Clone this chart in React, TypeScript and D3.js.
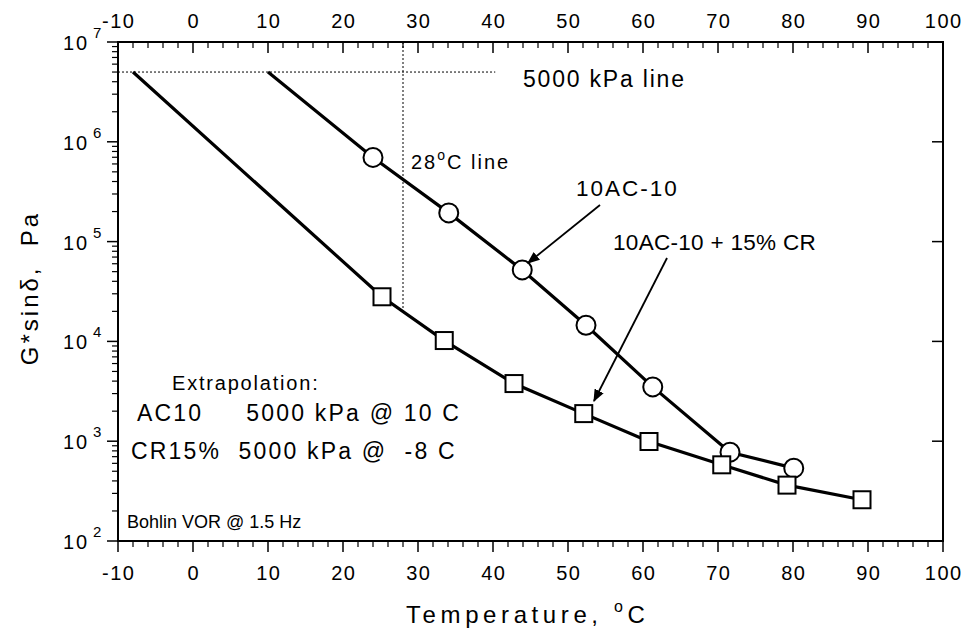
import React from "react";
import * as d3 from "d3";

const acTemps = [10, 24, 34.1, 43.9, 52.4, 61.3, 71.6, 80.1];
const acValues = [5e6, 6.97e5, 1.94e5, 5.2e4, 1.45e4, 3.5e3, 776, 537];
const acMarked = [false, true, true, true, true, true, true, true];

const crTemps = [-8, 25.2, 33.5, 42.8, 52.1, 60.8, 70.5, 79.2, 89.2];
const crValues = [5e6, 2.8e4, 1.02e4, 3.78e3, 1.89e3, 993, 580, 363, 259];
const crMarked = [false, true, true, true, true, true, true, true, true];

const xTicks = [-10, 0, 10, 20, 30, 40, 50, 60, 70, 80, 90, 100];
const yExponents = [2, 3, 4, 5, 6, 7];

const FONT = "Liberation Sans, Arial, sans-serif";

export default function App() {
  const x = d3.scaleLinear().domain([-10, 100]).range([118, 943]);
  const y = d3.scaleLog().domain([100, 1e7]).range([541, 42]);
  const line = d3
    .line<[number, number]>()
    .x((d) => x(d[0]))
    .y((d) => y(d[1]));

  const acPts: [number, number][] = acTemps.map((t, i) => [t, acValues[i]]);
  const crPts: [number, number][] = crTemps.map((t, i) => [t, crValues[i]]);

  const minorX = d3.range(-10, 100.01, 2).filter((v) => Math.abs(v % 10) > 0.01);
  const minorY: number[] = [];
  for (let e = 2; e < 7; e++) for (let m = 2; m <= 9; m++) minorY.push(m * Math.pow(10, e));

  const [x0, x1] = x.range();
  const yTop = y(1e7);
  const yBot = y(100);

  const crAt28 = Math.pow(10, 4.447 - (2.8 / 8.3) * 0.437);
  const tickLS = 1.5;

  return (
    <svg
      width={969}
      height={637}
      style={{ position: "absolute", left: 0, top: 0, background: "#fff" }}
      fontFamily={FONT}
    >
      <defs>
        <marker id="ah" viewBox="0 0 10 10" refX="9" refY="5" markerWidth="7" markerHeight="7" orient="auto-start-reverse">
          <path d="M0,1 L10,5 L0,9 Z" fill="#000" />
        </marker>
      </defs>
      <rect x={0} y={0} width={969} height={637} fill="#fff" />

      <rect x={x0} y={yTop} width={x1 - x0} height={yBot - yTop} fill="none" stroke="#000" strokeWidth={2} />

      {xTicks.map((t) => (
        <g key={"xt" + t}>
          <line x1={x(t)} x2={x(t)} y1={yBot} y2={yBot + 11} stroke="#000" strokeWidth={1.5} />
          <line x1={x(t)} x2={x(t)} y1={yTop} y2={yTop + 11} stroke="#000" strokeWidth={1.5} />
          <text x={x(t) + tickLS / 2} y={yBot + 39} textAnchor="middle" fontSize={20} letterSpacing={tickLS}>
            {t}
          </text>
          <text x={x(t) + tickLS / 2} y={yTop - 14} textAnchor="middle" fontSize={20} letterSpacing={tickLS}>
            {t}
          </text>
        </g>
      ))}
      {minorX.map((t) => (
        <g key={"xm" + t}>
          <line x1={x(t)} x2={x(t)} y1={yBot} y2={yBot + 6} stroke="#000" strokeWidth={1.2} />
          <line x1={x(t)} x2={x(t)} y1={yTop} y2={yTop + 6} stroke="#000" strokeWidth={1.2} />
        </g>
      ))}

      {yExponents.map((e) => {
        const v = Math.pow(10, e);
        return (
          <g key={"yt" + e}>
            <line x1={x0 - 11} x2={x0} y1={y(v)} y2={y(v)} stroke="#000" strokeWidth={1.5} />
            <line x1={x1 - 11} x2={x1} y1={y(v)} y2={y(v)} stroke="#000" strokeWidth={1.5} />
            <text x={63} y={y(v) + 8} textAnchor="start" fontSize={20} letterSpacing={2}>
              10
            </text>
            <text x={93} y={y(v) - 4} textAnchor="start" fontSize={15}>
              {e}
            </text>
          </g>
        );
      })}
      {minorY.map((v, i) => (
        <line key={"ym" + i} x1={x0 - 6} x2={x0} y1={y(v)} y2={y(v)} stroke="#000" strokeWidth={1.2} />
      ))}

      <line x1={x0} x2={x(40.3)} y1={y(5e6)} y2={y(5e6)} stroke="#000" strokeWidth={1} strokeDasharray="2,2" />
      <line x1={x(28)} x2={x(28)} y1={yTop} y2={y(crAt28)} stroke="#000" strokeWidth={1} strokeDasharray="2,2" />

      <path d={line(acPts) || ""} fill="none" stroke="#000" strokeWidth={3.2} />
      <path d={line(crPts) || ""} fill="none" stroke="#000" strokeWidth={3.2} />

      {acPts.map((p, i) =>
        acMarked[i] ? (
          <circle key={"c" + i} cx={x(p[0])} cy={y(p[1])} r={9.5} fill="#fff" stroke="#000" strokeWidth={2} />
        ) : null
      )}
      {crPts.map((p, i) =>
        crMarked[i] ? (
          <rect key={"s" + i} x={x(p[0]) - 8.5} y={y(p[1]) - 8.5} width={17} height={17} fill="#fff" stroke="#000" strokeWidth={2} />
        ) : null
      )}

      <line x1={600} y1={205} x2={528} y2={263} stroke="#000" strokeWidth={1.8} markerEnd="url(#ah)" />
      <line x1={667} y1={258} x2={594} y2={401} stroke="#000" strokeWidth={1.8} markerEnd="url(#ah)" />

      <text x={523} y={87} fontSize={23} letterSpacing={1.8}>5000 kPa line</text>
      <text x={411} y={169} fontSize={20} letterSpacing={2}>
        28<tspan dy={-9} fontSize={14}>o</tspan>
        <tspan dy={9}>C line</tspan>
      </text>
      <text x={576} y={196} fontSize={22.5} letterSpacing={2}>10AC-10</text>
      <text x={613} y={250} fontSize={22.5} letterSpacing={0.3}>10AC-10 + 15% CR</text>
      <text x={172} y={390} fontSize={20} letterSpacing={1.8}>Extrapolation:</text>
      <text x={137} y={421} fontSize={23} letterSpacing={2.2} xmlSpace="preserve">AC10     5000 kPa @ 10 C</text>
      <text x={131} y={459} fontSize={23} letterSpacing={2.2} xmlSpace="preserve">CR15%  5000 kPa @  -8 C</text>
      <text x={127} y={528} fontSize={18} letterSpacing={0}>Bohlin VOR @ 1.5 Hz</text>

      <text x={406} y={623} fontSize={24} letterSpacing={4.6}>
        Temperature, <tspan dy={-11} fontSize={16}>o</tspan>
        <tspan dy={11}>C</tspan>
      </text>
      <text transform={`translate(38, 288) rotate(-90)`} textAnchor="middle" fontSize={24} letterSpacing={3} xmlSpace="preserve">
        G*sinδ,  Pa
      </text>
    </svg>
  );
}
